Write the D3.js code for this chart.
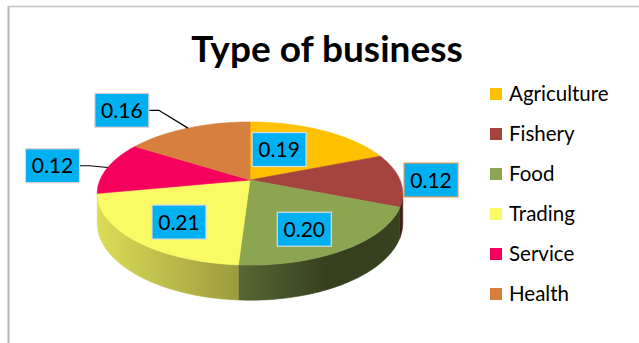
<!DOCTYPE html>
<html>
<head>
<meta charset="utf-8">
<script src="https://cdn.jsdelivr.net/npm/d3@7"></script>
<style>
  html, body { margin: 0; padding: 0; background: #fff; }
  svg { display: block; font-family: Lato, "Open Sans", sans-serif; }
</style>
</head>
<body>
<svg id="chart" width="639" height="343"></svg>
<script>
const categories = ["Agriculture", "Fishery", "Food", "Trading", "Service", "Health"];
const shares = [0.19, 0.12, 0.20, 0.21, 0.12, 0.16];
const labelText = ["0.19", "0.12", "0.20", "0.21", "0.12", "0.16"];
const colors = ["#FFC000", "#A5443F", "#8CA550", "#FAFA64", "#F5005C", "#D77F3E"];

// where the data labels sit: radius as fraction of the pie + a pixel nudge
const labelPlace = [
  { r: 0.5,  dx: -10, dy: -4, leader: false, border: "#d9dde2" },
  { r: 1.2,  dx: 1,   dy: 0,  leader: false, border: "#f0a25a" },
  { r: 0.65, dx: -4,  dy: 7,  leader: false, border: "#d9dde2" },
  { r: 0.65, dx: 0,   dy: 5,  leader: false, border: "#d9dde2" },
  { r: 1.4,  dx: -1,  dy: 3,  leader: true,  border: "#e8d2d2" },
  { r: 1.4,  dx: -46, dy: -1, leader: true,  border: "#e8d2d2" }
];

const svg = d3.select("#chart");

// frame
svg.append("line").attr("x1", 8.5).attr("x2", 8.5).attr("y1", 6).attr("y2", 343)
  .attr("stroke", "#b8b8b8").attr("stroke-width", 2);
svg.append("line").attr("x1", 8).attr("x2", 639).attr("y1", 6.5).attr("y2", 6.5)
  .attr("stroke", "#c4c4c4").attr("stroke-width", 1.5);

svg.append("text")
  .attr("x", 327).attr("y", 62)
  .attr("text-anchor", "middle")
  .attr("font-size", 37).attr("font-weight", "bold")
  .attr("fill", "#000")
  .text("Type of business");

// 3d pie, projected with a bit of perspective
const cx = 250, cy = 180, A = 150, B = 69, H = 28.5, k = 0.189;
function proj(t, r, level) {
  const s = 1 / (1 + k * r * Math.cos(t));
  return [cx + A * r * Math.sin(t) * s, cy - B * r * Math.cos(t) * s + level * H * s];
}
function arcPts(a0, a1, r, level) {
  const n = Math.max(2, Math.ceil((a1 - a0) / 0.02));
  return d3.range(n + 1).map(i => proj(a0 + (a1 - a0) * i / n, r, level));
}

const arcs = d3.pie().sort(null).value(d => d)(shares);
const line = d3.line();
const defs = svg.append("defs");

const tR = Math.acos(-k), tL = 2 * Math.PI - tR;
const shade = d3.scaleLinear()
  .domain([cx - A * 1.02, 240, 330, cx + A * 1.02])
  .range([0.88, 0.62, 0.38, 0.4]);

const pie = svg.append("g");

// sides first
arcs.forEach((a, i) => {
  const lo = Math.max(a.startAngle, tR), hi = Math.min(a.endAngle, tL);
  if (lo >= hi) return;
  const g = defs.append("linearGradient").attr("id", "side" + i)
    .attr("gradientUnits", "userSpaceOnUse")
    .attr("x1", cx - A * 1.02).attr("x2", cx + A * 1.02).attr("y1", 0).attr("y2", 0);
  shade.domain().forEach(x => {
    const c = d3.rgb(colors[i]), f = shade(x);
    g.append("stop")
      .attr("offset", (x - (cx - A * 1.02)) / (A * 2.04))
      .attr("stop-color", d3.rgb(c.r * f, c.g * f, c.b * f));
  });
  const pts = arcPts(lo, hi, 1, 0).concat(arcPts(lo, hi, 1, 1).reverse());
  pie.append("path")
    .attr("d", line(pts) + "Z")
    .attr("fill", "url(#side" + i + ")")
    .attr("stroke", "url(#side" + i + ")").attr("stroke-width", 0.6);
});

// tops
arcs.forEach((a, i) => {
  const pts = [[cx, cy]].concat(arcPts(a.startAngle, a.endAngle, 1, 0));
  pie.append("path")
    .attr("d", line(pts) + "Z")
    .attr("fill", colors[i])
    .attr("stroke", colors[i]).attr("stroke-width", 0.6);
});

// data labels
const bw = 54, bh = 34;
arcs.forEach((a, i) => {
  const mid = (a.startAngle + a.endAngle) / 2;
  const p = labelPlace[i];
  const c = proj(mid, p.r, 0);
  const x = c[0] + p.dx, y = c[1] + p.dy;
  if (p.leader) {
    const e = proj(mid, 1, 0);
    pie.append("path")
      .attr("d", line([[x + bw / 2, y], [x + bw / 2 + 10, y], e]))
      .attr("fill", "none").attr("stroke", "#000").attr("stroke-width", 1.2);
  }
  pie.append("rect")
    .attr("x", x - bw / 2).attr("y", y - bh / 2)
    .attr("width", bw).attr("height", bh)
    .attr("fill", "#00B0F0")
    .attr("stroke", p.border).attr("stroke-width", 1.2);
  pie.append("text")
    .attr("x", x).attr("y", y)
    .attr("dy", "0.36em")
    .attr("text-anchor", "middle")
    .attr("font-size", 21).attr("fill", "#000")
    .text(labelText[i]);
});

// legend
const legend = svg.append("g").selectAll("g")
  .data(categories).enter().append("g")
  .attr("transform", (d, i) => "translate(490," + (94 + i * 40) + ")");
legend.append("rect")
  .attr("x", 0).attr("y", -6).attr("width", 12).attr("height", 12)
  .attr("fill", (d, i) => colors[i]);
legend.append("text")
  .attr("x", 19).attr("y", 0).attr("dy", "0.36em")
  .attr("font-size", 20.5).attr("fill", "#000")
  .text(d => d);
</script>
</body>
</html>
